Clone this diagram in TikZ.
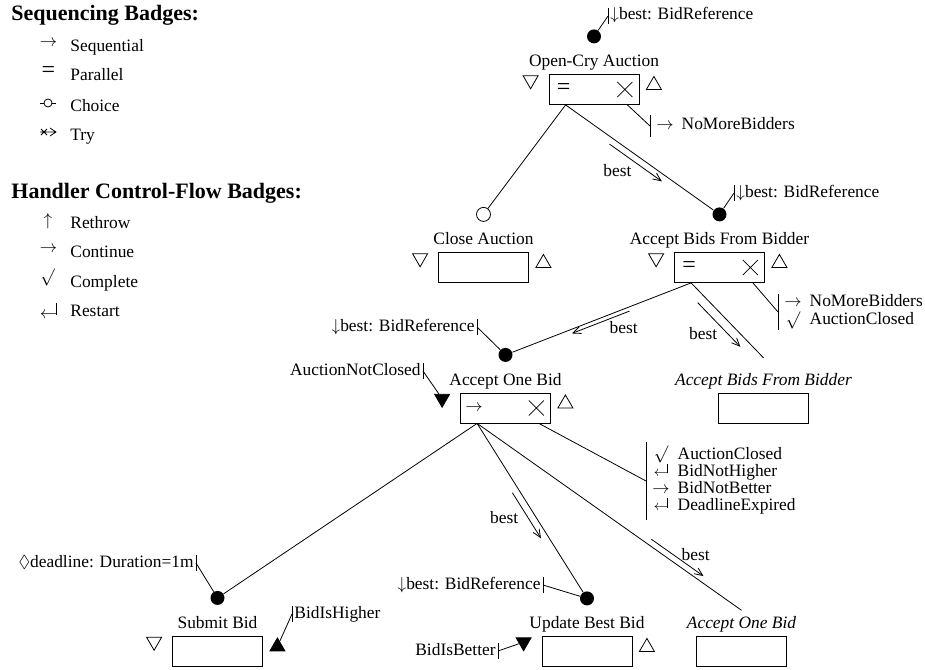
\documentclass[tikz,border=0pt]{standalone}
\usepackage{fontspec}
\usepackage{amssymb}
\usepackage{tikz}
\usetikzlibrary{shapes.geometric,arrows.meta,positioning,calc}
\setmainfont{Liberation Serif}
\newcommand{\hsym}[1]{{\fontsize{16}{15}\selectfont$#1$}}
\newcommand{\eqsym}{{\fontsize{24}{24}\selectfont=}}
\newcommand{\rstsym}[1][15]{{\fontsize{#1}{15}\selectfont$\leftarrow$\kern-0.06em\rule[0.22em]{0.045em}{0.62em}}}

\begin{document}
\begin{tikzpicture}[x=1pt, y=-1pt, line width=0.8pt,
    font=\fontsize{17.4}{20}\selectfont,
    head/.style={anchor=base west, inner sep=0pt, font=\fontsize{22}{24}\selectfont\bfseries},
    entry/.style={anchor=base west, inner sep=0pt},
    badge/.style={inner sep=0pt},
    box/.style={draw, minimum width=90pt, minimum height=30pt, inner sep=0pt},
    ttl/.style={inner sep=0pt, text height=12pt, text depth=4pt},
    bindot/.style={circle, fill, inner sep=0pt, minimum size=14pt},
    choicedot/.style={circle, draw, inner sep=0pt, minimum size=14pt},
    precond/.style={regular polygon, regular polygon sides=3, shape border rotate=180,
                    draw, inner sep=0pt, minimum size=17.3pt},
    postcond/.style={regular polygon, regular polygon sides=3,
                    draw, inner sep=0pt, minimum size=17.3pt},
    tagw/.style={anchor=west, inner xsep=2pt, inner ysep=0pt, text height=11.5pt, text depth=3.5pt,
                 append after command={(\tikzlastnode.north west) edge (\tikzlastnode.south west)}},
    tage/.style={anchor=east, inner xsep=2pt, inner ysep=0pt, text height=11.5pt, text depth=3.5pt,
                 append after command={(\tikzlastnode.north east) edge (\tikzlastnode.south east)}},
    hlist/.style={anchor=west, inner xsep=6pt, inner ysep=2pt, font=\fontsize{17.4}{16.2}\selectfont,
                  append after command={(\tikzlastnode.north west) edge (\tikzlastnode.south west)}},
    bestarrow/.style={-{Straight Barb[length=8pt, width=7pt]}},
    flowlbl/.style={inner sep=1pt}
]
\path[use as bounding box, fill=white] (0,0) rectangle (925,669);

% Legend
\node[head] (lh1) at (11,21) {Sequencing Badges:};
\node[badge] (lsym1) at (48.5,43.5) {$\rightarrow$};
\node[badge] (lsym2) at (48.5,72) {\eqsym};
\draw (40,103) -- node[choicedot, minimum size=8pt, fill=white] (lsym3) {} (56,103);
\draw (40,132) -- (56,132) (50,128) -- (56,132) -- (50,136) (41,129) -- (47,135) (41,135) -- (47,129);
\node[entry] (ls1) at (70,52) {Sequential};
\node[entry] (ls2) at (70,81) {Parallel};
\node[entry] (ls3) at (70,111) {Choice};
\node[entry] (ls4) at (70,140) {Try};

\node[head] (lh2) at (11,198) {Handler Control-Flow Badges:};
\node[badge] (lsym5) at (48,221.5) {$\uparrow$};
\node[badge] (lsym6) at (48.5,249.5) {$\rightarrow$};
\node[badge] (lsym7) at (47.5,277) {$\surd$};
\node[badge] (lsym8) at (48.5,311) {\rstsym[18]};
\node[entry] (lc1) at (70,228) {Rethrow};
\node[entry] (lc2) at (70,257) {Continue};
\node[entry] (lc3) at (70,287) {Complete};
\node[entry] (lc4) at (70,316) {Restart};

% Open-Cry Auction
\node[box] (ob) at (594,89.5) {};
\node[ttl, above=3pt of ob] (otl) {Open-Cry Auction};
\node[bindot, above=10.5pt of otl] (od) {};
\node[precond] (opre) at ($(ob.north west)+(-18,6)$) {};
\node[postcond] (opost) at ($(ob.north east)+(14.5,11)$) {};
\node[badge] (obadge) at ($(ob.west)+(15,0)$) {\eqsym};
\node[tagw] (op) at (608,16) {$\downarrow$best: BidReference};
\node[hlist] (oh) at (650,126) {\begin{tabular}{@{}c@{\hspace{8pt}}l@{}}\hsym{\rightarrow} & NoMoreBidders\end{tabular}};
\coordinate (oout) at ($(ob.south west)+(17,0)$);

% Close Auction
\node[box] (cb) at (483.5,267.5) {};
\node[ttl, above=3pt of cb] (ctl) {Close Auction};
\node[choicedot, above=10.5pt of ctl] (cd) {};
\node[precond] (cpre) at ($(cb.north west)+(-18,6)$) {};
\node[postcond] (cpost) at ($(cb.north east)+(14.5,11)$) {};

% Accept Bids From Bidder
\node[box] (ab) at (719.5,267.5) {};
\node[ttl, above=3pt of ab] (atl) {Accept Bids From Bidder};
\node[bindot, above=10.5pt of atl] (ad) {};
\node[precond] (apre) at ($(ab.north west)+(-18,6)$) {};
\node[postcond] (apost) at ($(ab.north east)+(14.5,11)$) {};
\node[badge] (abadge) at ($(ab.west)+(15,0)$) {\eqsym};
\node[tagw] (ap) at (734,193) {$\downarrow$best: BidReference};
\node[hlist, inner ysep=0pt] (ah) at (778,312) {\begin{tabular}{@{}c@{\hspace{8pt}}l@{}}\hsym{\rightarrow} & NoMoreBidders\\ \hsym{\surd} & AuctionClosed\end{tabular}};
\coordinate (aout) at ($(ab.south west)+(17,0)$);

% Accept Bids From Bidder (again)
\node[box] (rb) at (763.5,408) {};
\node[ttl, above=3pt of rb] (rtl) {\textit{Accept Bids From Bidder}};
\coordinate (rin) at ($(rtl.north)+(0,-15)$);

% Accept One Bid
\node[box] (nb) at (505.5,408) {};
\node[ttl, above=3pt of nb] (ntl) {Accept One Bid};
\node[bindot, above=10.5pt of ntl] (nd) {};
\node[precond, fill] (npre) at ($(nb.north west)+(-18,6)$) {};
\node[postcond] (npost) at ($(nb.north east)+(14.5,11)$) {};
\node[badge] (nbadge) at ($(nb.west)+(14,0)$) {$\rightarrow$};
\node[tage] (np) at (477,327) {$\downarrow$best: BidReference};
\node[tage] (nc) at (423,371) {AuctionNotClosed};
\node[hlist, inner ysep=4pt] (nh) at (646,481) {\begin{tabular}{@{}c@{\hspace{8pt}}l@{}}\hsym{\surd} & AuctionClosed\\ \rstsym & BidNotHigher\\ \hsym{\rightarrow} & BidNotBetter\\ \rstsym & DeadlineExpired\end{tabular}};
\coordinate (nout) at ($(nb.south west)+(17,0)$);

% Submit Bid
\node[box] (sb) at (217.5,651) {};
\node[ttl, above=3pt of sb] (stl) {Submit Bid};
\node[bindot, above=10.5pt of stl] (sd) {};
\node[precond] (spre) at ($(sb.north west)+(-18,6)$) {};
\node[postcond, fill] (spost) at ($(sb.north east)+(14.5,11)$) {};
\node[tage] (sp) at (196,563) {$\Diamond$deadline: Duration=1m};
\node[tagw] (sc) at (292,614) {BidIsHigher};

% Update Best Bid
\node[box] (ub) at (587,651.5) {};
\node[ttl, above=3pt of ub] (utl) {Update Best Bid};
\node[bindot, above=10.5pt of utl] (ud) {};
\node[precond, fill] (upre) at ($(ub.north west)+(-18,6)$) {};
\node[postcond] (upost) at ($(ub.north east)+(14.5,11)$) {};
\node[tage] (upar) at (543,585) {$\downarrow$best: BidReference};
\node[tage] (ucon) at (498,651) {BidIsBetter};

% Accept One Bid (again)
\node[box] (qb) at (741.5,651.5) {};
\node[ttl, above=3pt of qb] (qtl) {\textit{Accept One Bid}};
\coordinate (qin) at ($(qtl.north)+(0,-6)$);

% Badges in the boxes
\foreach \b in {ob,ab,nb}
  \draw ($(\b.east)+(-22,-7.5)$) -- +(15,15) ($(\b.east)+(-22,7.5)$) -- +(15,-15);

% Connectors
\draw (oout) -- (cd);
\draw (oout) -- (ad);
\draw ($(ob.south east)+(-12,0)$) -- (oh.west);
\draw (od) -- (op.west);
\draw (ad) -- (ap.west);
\draw (aout) -- (nd);
\draw (aout) -- (rin);
\draw ($(ab.south east)+(-12,0)$) -- (ah.west);
\draw (nd) -- (np.east);
\draw (nc.east) -- (npre);
\draw ($(nb.south east)+(-12,0)$) -- (nh.west);
\draw (nout) -- (sd);
\draw (nout) -- (ud);
\draw (nout) -- (qin);
\draw (sd) -- (sp.east);
\draw (spost) -- (sc.west);
\draw (ud) -- (upar.east);
\draw (ucon.east) -- (upre);

% Data flow
\draw[bestarrow] ($(oout)!0.31!(ad)!6.5pt!-90:(ad)$) -- node[flowlbl, pos=0.15, below=13pt] (f1) {best} ($(oout)!0.65!(ad)!6.5pt!-90:(ad)$);
\draw[bestarrow] ($(aout)!0.34!(nd)!4pt!90:(nd)$) -- node[flowlbl, pos=0.1, below=7pt] (f2) {best} ($(aout)!0.65!(nd)!4pt!90:(nd)$);
\draw[bestarrow] ($(aout)!0.18!(rin)!9pt!-90:(rin)$) -- node[flowlbl, pos=0.7, left=9pt] (f3) {best} ($(aout)!0.77!(rin)!9pt!-90:(rin)$);
\draw[bestarrow] ($(nout)!0.375!(ud)!7pt!-90:(ud)$) -- node[flowlbl, pos=0.55, left=8.5pt] (f4) {best} ($(nout)!0.635!(ud)!7pt!-90:(ud)$);
\draw[bestarrow] ($(nout)!0.646!(qin)!6pt!90:(qin)$) -- node[flowlbl, pos=0.85, above=8.5pt] (f5) {best} ($(nout)!0.843!(qin)!6pt!90:(qin)$);

\end{tikzpicture}
\end{document}
